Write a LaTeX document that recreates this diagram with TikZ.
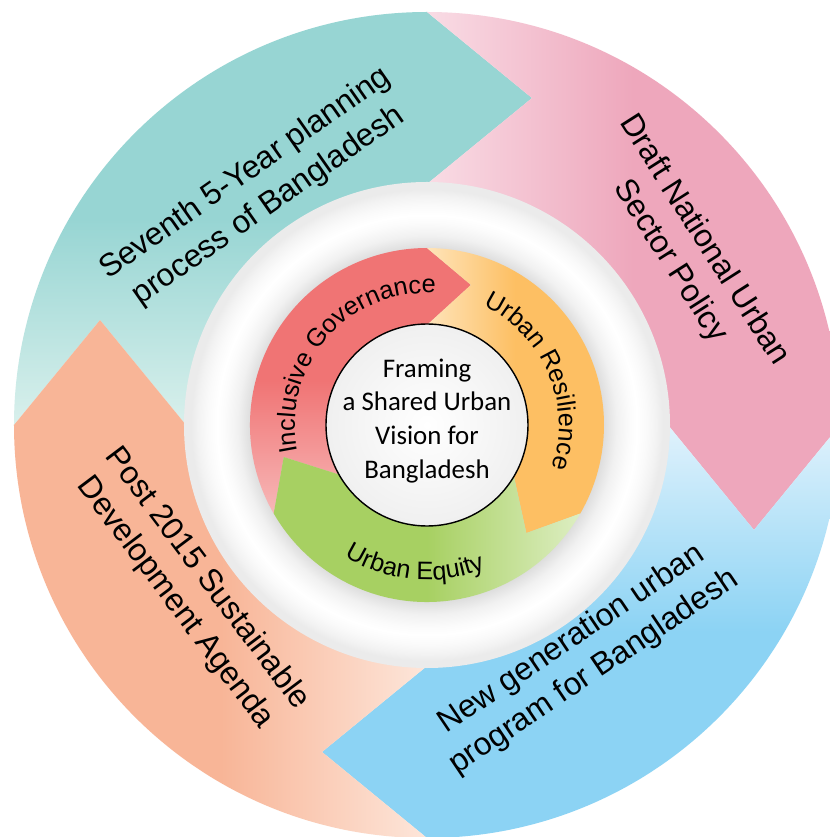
\documentclass[tikz,border=0pt]{standalone}
\usepackage{fontspec}
\newfontfamily\arrowfont{Liberation Sans}
\newfontfamily\hubfont{Carlito}
\usetikzlibrary{decorations.text}
\definecolor{TealArrow}{HTML}{97D5D3}
\definecolor{TealLight}{HTML}{D9F0EC}
\definecolor{PinkArrow}{HTML}{EEA7BC}
\definecolor{PinkLight}{HTML}{F9DCE5}
\definecolor{BlueArrow}{HTML}{8CD3F4}
\definecolor{BlueLight}{HTML}{E0F2FC}
\definecolor{PeachArrow}{HTML}{F8B597}
\definecolor{PeachLight}{HTML}{FDE6DA}
\definecolor{RedArrow}{HTML}{F07474}
\definecolor{RedLight}{HTML}{F7B8B8}
\definecolor{OrangeArrow}{HTML}{FDBF63}
\definecolor{OrangeLight}{HTML}{FEE4BA}
\definecolor{GreenArrow}{HTML}{A7D062}
\definecolor{GreenLight}{HTML}{DDEEC2}
\pgfdeclareradialshading{ringshade}{\pgfpoint{0bp}{0bp}}{color(0bp)=(gray!38); color(17.5bp)=(gray!38); color(18.2bp)=(gray!26); color(19.5bp)=(gray!11); color(20.8bp)=(gray!3); color(21.6bp)=(white); color(22.6bp)=(gray!4); color(23.6bp)=(gray!10); color(24.3bp)=(gray!16); color(25bp)=(gray!16); color(50bp)=(gray!16)}
\tikzset{
  tealband/.style={top color=TealArrow, bottom color=TealLight, middle color=TealArrow},
  pinkband/.style={left color=PinkLight, right color=PinkArrow, middle color=PinkArrow},
  blueband/.style={top color=BlueLight, bottom color=BlueArrow, middle color=BlueArrow},
  peachband/.style={left color=PeachArrow, right color=PeachLight, middle color=PeachArrow},
  redband/.style={top color=RedArrow, bottom color=RedLight, middle color=RedArrow},
  orangeband/.style={left color=OrangeLight, right color=OrangeArrow, middle color=OrangeArrow},
  greenband/.style={left color=GreenArrow, right color=GreenLight, middle color=GreenArrow},
  outerlabel/.style={font=\arrowfont\fontsize{18.1pt}{22.7pt}\selectfont, align=center, text=black, inner sep=0pt},
  hubtext/.style={font=\hubfont\fontsize{15.3pt}{19.3pt}\selectfont, align=center, text=black, inner sep=0pt},
  hubdisc/.style={draw=black, line width=0.8pt, inner color=white, outer color=gray!12},
  curvedlabel/.style={decorate, decoration={text along path, text align=center, text={|\arrowfont\fontsize{14.4pt}{17pt}\selectfont|#1}}}
}
\begin{document}
\begin{tikzpicture}[scale=0.02]
  \useasboundingbox (-427,-412) rectangle (403,425);
  \fill[white] (-427,-412) rectangle (403,425);
  \clip (-427,-412) rectangle (403,425);

  % outer ring of four arrows
  \foreach \a/\s in {90/tealband, 0/pinkband, -90/blueband, 180/peachband}
    \shade[\s] ({\a+90}:413) arc[start angle=\a+90, end angle=\a, radius=413] -- ({\a-17.8}:343.4)
      -- (\a:241) arc[start angle=\a, end angle=\a+90, radius=241] -- ({\a+90-17.8}:343.4) -- cycle;

  \node[outerlabel, rotate=35] (seventh) at (-170,235) {Seventh 5-Year planning\\process of Bangladesh};
  \node[outerlabel, rotate=-57.5] (draft) at (260,174) {Draft National Urban\\Sector Policy};
  \node[outerlabel, rotate=34] (newgen) at (156,-231) {New generation urban\\program for Bangladesh};
  \node[outerlabel, rotate=-53] (post) at (-236,-166) {Post 2015 Sustainable\\Development Agenda};

  % white ring
  \shade[shading=ringshade] (0,0) circle (243);

  % inner ring of three arrows
  \foreach \a/\s in {90/redband, -30/orangeband, 210/greenband}
    \shade[\s] ({\a+120}:177) arc[start angle=\a+120, end angle=\a, radius=177] -- ({\a-17.4}:146.8)
      -- (\a:100) arc[start angle=\a, end angle=\a+120, radius=100] -- ({\a+120-17.4}:146.8) -- cycle;

  \path[curvedlabel=Inclusive Governance] (199:132) arc[start angle=199, end angle=79, radius=132];
  \path[curvedlabel=Urban Resilience] (83:132) arc[start angle=83, end angle=-37, radius=132];
  \path[curvedlabel=Urban Equity] (215:155) arc[start angle=215, end angle=315, radius=155];

  % centre
  \shadedraw[hubdisc] (0,0) circle (101);
  \node[hubtext] (hub) at (0,4) {Framing\\a Shared Urban\\Vision for\\Bangladesh};
\end{tikzpicture}
\end{document}
